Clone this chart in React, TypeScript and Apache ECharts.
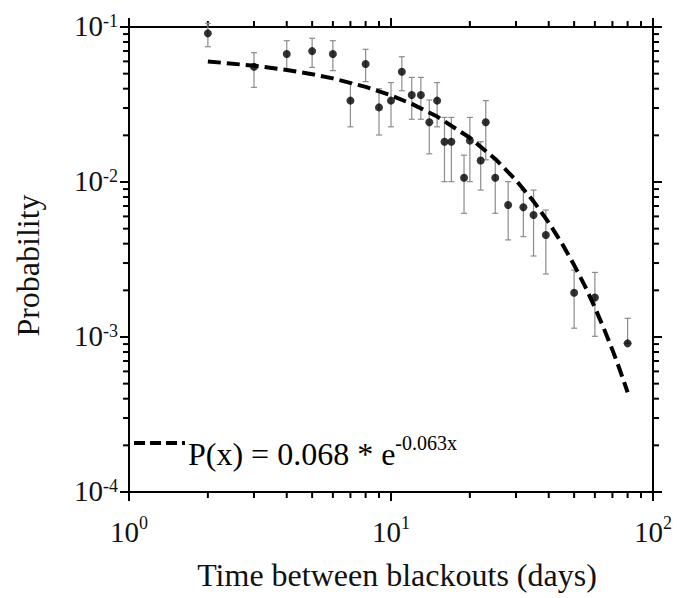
import React, { useEffect, useRef } from "react";
import * as echarts from "echarts";

const days = [2, 3, 4, 5, 6, 7, 8, 9, 10, 11, 12, 13, 14, 15, 16, 17, 19, 20, 22, 23, 25, 28, 32, 35, 39, 50, 60, 80];
const probability = [0.091, 0.0554, 0.067, 0.0699, 0.067, 0.0335, 0.0577, 0.0303, 0.0335, 0.0515, 0.0364, 0.0364, 0.0243, 0.0335, 0.0182, 0.0182, 0.01066, 0.0185, 0.01375, 0.0243, 0.01066, 0.00711, 0.00687, 0.00612, 0.00455, 0.00193, 0.0018, 0.00091];
const errLow = [0.0746, 0.0408, 0.0528, 0.0549, 0.0523, 0.0227, 0.0444, 0.0201, 0.0227, 0.0388, 0.0254, 0.0254, 0.0152, 0.0227, 0.01005, 0.01005, 0.00628, 0.01005, 0.00887, 0.0139, 0.00628, 0.00423, 0.00444, 0.00333, 0.00255, 0.00114, 0.00101, 0.00091];
const errHigh = [0.1057, 0.0683, 0.0816, 0.0846, 0.0816, 0.0438, 0.0718, 0.04, 0.0438, 0.0643, 0.0473, 0.0473, 0.0338, 0.0438, 0.0261, 0.0261, 0.0149, 0.0261, 0.0182, 0.0335, 0.0139, 0.01005, 0.00887, 0.00887, 0.00659, 0.0027, 0.00261, 0.00132];

// Fitted curve P(x) = 0.068 * e^(-0.063x), sampled values
const fitX = [2, 3, 4, 5, 6, 8, 10, 12, 15, 20, 25, 30, 35, 40, 45, 50, 55, 60, 65, 70, 75, 80];
const fitY = [0.05995, 0.05629, 0.05286, 0.04963, 0.0466, 0.04108, 0.03622, 0.03193, 0.02643, 0.01929, 0.01408, 0.01027, 0.0075, 0.00547, 0.00399, 0.00291, 0.00213, 0.00155, 0.00113, 0.000826, 0.000603, 0.00044];

// Minor tick positions
const minorXTicks = [2, 3, 4, 5, 6, 7, 8, 9, 20, 30, 40, 50, 60, 70, 80, 90];
const minorYTicks = [2e-4, 3e-4, 4e-4, 5e-4, 6e-4, 7e-4, 8e-4, 9e-4, 2e-3, 3e-3, 4e-3, 5e-3, 6e-3, 7e-3, 8e-3, 9e-3, 2e-2, 3e-2, 4e-2, 5e-2, 6e-2, 7e-2, 8e-2, 9e-2];

const xTitle = "Time between blackouts (days)";
const yTitle = "Probability";
const fitLabelMain = "P(x) = 0.068 * e";
const fitLabelSup = "-0.063x";

const FONT = "'Liberation Serif', 'Times New Roman', serif";

export default function App() {
  const ref = useRef<HTMLDivElement>(null);
  useEffect(() => {
    const chart = echarts.init(ref.current!, null, { renderer: "svg" });
    const fmt = (v: number) => `{b|10}{s|${Math.round(Math.log10(v))}}`;
    const richX = {
      b: { fontSize: 29, fontFamily: FONT, color: "#111", lineHeight: 30, padding: [5, 0, 0, 0] },
      s: { fontSize: 18, fontFamily: FONT, color: "#111", lineHeight: 18, verticalAlign: "top" },
    };
    const richY = {
      b: { fontSize: 29, fontFamily: FONT, color: "#111", lineHeight: 30, padding: [5, 0, 8, 0] },
      s: { fontSize: 18, fontFamily: FONT, color: "#111", lineHeight: 18, verticalAlign: "top" },
    };
    const axisLine = { show: true, onZero: false, lineStyle: { color: "#000", width: 2 } };
    const axisTick = { show: true, inside: false, length: 9, lineStyle: { color: "#000", width: 2 } };
    const L = 6;

    chart.setOption({
      animation: false,
      backgroundColor: "#fff",
      grid: { left: 129, right: 24, top: 27, bottom: 106, containLabel: false },
      xAxis: [
        {
          type: "log", logBase: 10, min: 1, max: 100, position: "bottom",
          axisLine, axisTick, splitLine: { show: false },
          axisLabel: { formatter: fmt, rich: richX, margin: 22, showMinLabel: true, showMaxLabel: true },
          name: xTitle, nameLocation: "middle", nameGap: 67,
          nameTextStyle: { fontSize: 32, fontFamily: FONT, color: "#111", padding: [0, 0, 0, 12] },
        },
        {
          type: "log", logBase: 10, min: 1, max: 100, position: "top",
          axisLine, axisTick, splitLine: { show: false }, axisLabel: { show: false },
        },
      ],
      yAxis: [
        {
          type: "log", logBase: 10, min: 1e-4, max: 1e-1, position: "left",
          axisLine, axisTick, splitLine: { show: false },
          axisLabel: { formatter: fmt, rich: richY, margin: 11, showMinLabel: true, showMaxLabel: true },
          name: yTitle, nameLocation: "middle", nameGap: 85,
          nameTextStyle: { fontSize: 32, fontFamily: FONT, color: "#111", padding: [0, 12, 0, 0] },
        },
        {
          type: "log", logBase: 10, min: 1e-4, max: 1e-1, position: "right",
          axisLine, axisTick, splitLine: { show: false }, axisLabel: { show: false },
        },
      ],
      series: [
        {
          type: "custom",
          silent: true,
          xAxisIndex: 0, yAxisIndex: 0,
          dimensions: ["x", "y", "k"],
          encode: { x: 0, y: 1 },
          data: [
            ...minorXTicks.map((v) => [v, 1e-4, 0]),
            ...minorYTicks.map((v) => [1, v, 1]),
          ],
          renderItem: (params: any, api: any) => {
            const k = api.value(2);
            const style = { stroke: "#000", lineWidth: 2 };
            if (k === 0) {
              const v = api.value(0);
              const b = api.coord([v, 1e-4]);
              const t = api.coord([v, 1e-1]);
              return {
                type: "group",
                children: [
                  { type: "line", shape: { x1: b[0], y1: b[1], x2: b[0], y2: b[1] + L }, style },
                  { type: "line", shape: { x1: t[0], y1: t[1], x2: t[0], y2: t[1] - L }, style },
                ],
              };
            }
            const v = api.value(1);
            const l = api.coord([1, v]);
            const r = api.coord([100, v]);
            return {
              type: "group",
              children: [
                { type: "line", shape: { x1: l[0] - L, y1: l[1], x2: l[0], y2: l[1] }, style },
                { type: "line", shape: { x1: r[0], y1: r[1], x2: r[0] + L, y2: r[1] }, style },
              ],
            };
          },
          z: 2,
        },
        {
          type: "line",
          xAxisIndex: 0, yAxisIndex: 0,
          data: fitX.map((x, i) => [x, fitY[i]]),
          showSymbol: false,
          symbol: "none",
          lineStyle: { color: "#000", width: 4, type: [13, 6] },
          z: 3,
        },
        {
          type: "custom",
          xAxisIndex: 0, yAxisIndex: 0,
          dimensions: ["x", "lo", "hi"],
          encode: { x: 0, y: [1, 2] },
          data: days.map((d, i) => [d, errLow[i], errHigh[i]]),
          renderItem: (params: any, api: any) => {
            const x = api.value(0);
            const lo = api.coord([x, api.value(1)]);
            const hi = api.coord([x, api.value(2)]);
            const w = 3;
            const style = { stroke: "#8c8c8c", lineWidth: 1.2 };
            return {
              type: "group",
              children: [
                { type: "line", shape: { x1: lo[0], y1: lo[1], x2: hi[0], y2: hi[1] }, style },
                { type: "line", shape: { x1: hi[0] - w, y1: hi[1], x2: hi[0] + w, y2: hi[1] }, style },
                { type: "line", shape: { x1: lo[0] - w, y1: lo[1], x2: lo[0] + w, y2: lo[1] }, style },
              ],
            };
          },
          z: 2,
        },
        {
          type: "scatter",
          xAxisIndex: 0, yAxisIndex: 0,
          data: days.map((d, i) => [d, probability[i]]),
          symbol: "circle",
          symbolSize: 8,
          itemStyle: { color: "#000" },
          z: 4,
        },
      ],
      graphic: [
        {
          type: "line",
          shape: { x1: 134, y1: 443, x2: 185, y2: 443 },
          style: { stroke: "#000", lineWidth: 4, lineDash: [11, 5] },
        },
        {
          type: "text",
          x: 188,
          y: 449,
          style: {
            text: `{a|${fitLabelMain}}{s|${fitLabelSup}}`,
            verticalAlign: "middle",
            rich: {
              a: { fontSize: 32, fontFamily: FONT, color: "#111", lineHeight: 32, padding: [9, 0, 0, 0] },
              s: { fontSize: 20, fontFamily: FONT, color: "#111", lineHeight: 20, verticalAlign: "top" },
            },
          },
        },
      ],
    });
    return () => chart.dispose();
  }, []);
  return <div ref={ref} style={{ position: "fixed", left: 0, top: 0, width: 677, height: 598 }} />;
}
